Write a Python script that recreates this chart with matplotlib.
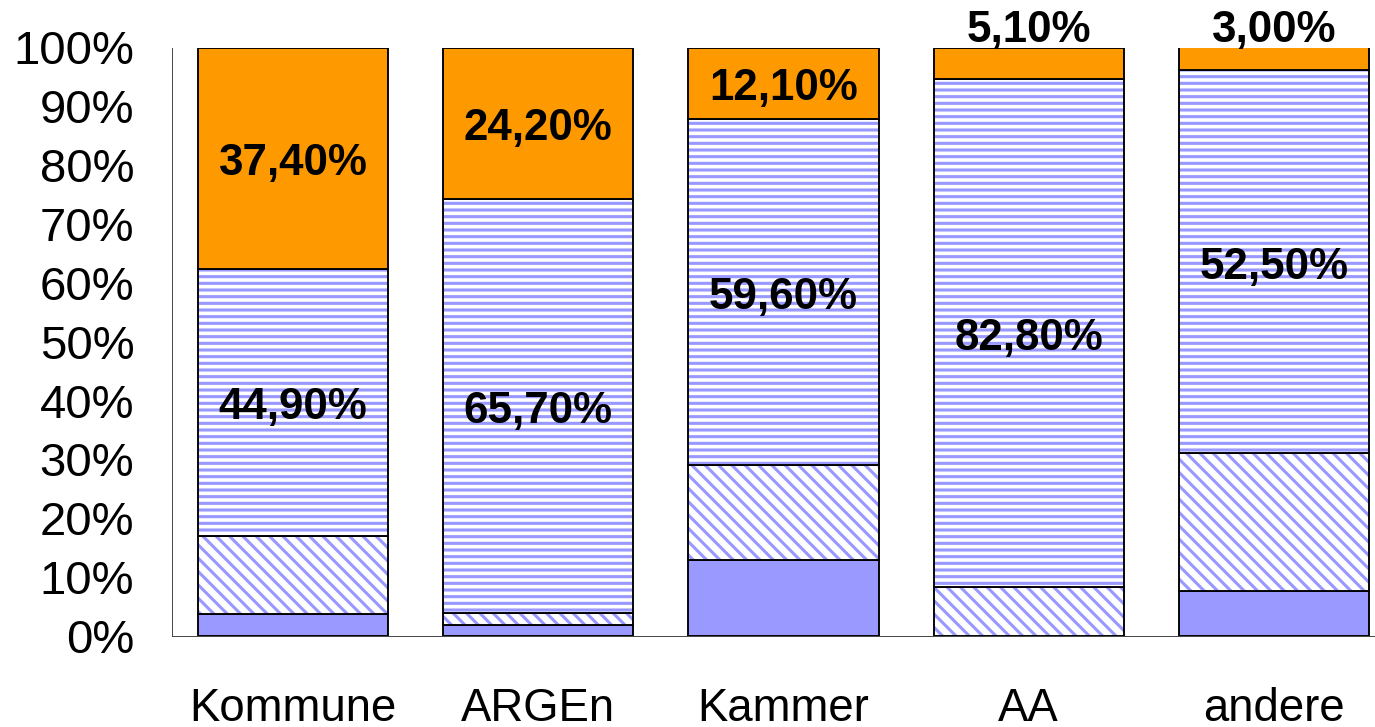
import matplotlib
matplotlib.use('Agg')
from matplotlib import pyplot as plt
import numpy as np

# data (segment heights in %, bottom to top)
categories = ['Kommune', 'ARGEn', 'Kammer', 'AA', 'andere']
solid = [3.7, 1.9, 12.9, 0.0, 7.7]
diagonal = [13.3, 2.0, 16.2, 8.3, 23.4]
stripes = [45.4, 70.4, 58.8, 86.4, 65.0]
orange = [37.6, 25.7, 12.1, 5.3, 3.9]
stripe_labels = ['44,90%', '65,70%', '59,60%', '82,80%', '52,50%']
orange_labels = ['37,40%', '24,20%', '12,10%', '5,10%', '3,00%']
yticks = [0, 10, 20, 30, 40, 50, 60, 70, 80, 90, 100]

DPI = 80  # chosen so that hatch spacing matches the reference
BLUE = '#9999FF'
ORANGE = '#FF9900'

plt.rcParams['font.family'] = ['Liberation Sans', 'DejaVu Sans']
plt.rcParams['hatch.linewidth'] = 2.8
plt.rcParams['hatch.color'] = BLUE

fig = plt.figure(figsize=(1375 / DPI, 727 / DPI), dpi=DPI)
ax = fig.add_axes([172 / 1375, 1 - 636 / 727, 1 - 172 / 1375, (636 - 47.5) / 727])

x = np.arange(len(categories))
width = 0.775
edge_lw = 1.7

b0 = np.zeros(len(categories))
b1 = b0 + np.array(solid)
b2 = b1 + np.array(diagonal)
b3 = b2 + np.array(stripes)

# solid blue
ax.bar(x, solid, width, bottom=b0, color=BLUE, edgecolor='black', linewidth=edge_lw)
# diagonal hatch
ax.bar(x, diagonal, width, bottom=b1, color='white', edgecolor=BLUE, hatch='\\\\', linewidth=0)
ax.bar(x, diagonal, width, bottom=b1, fill=False, edgecolor='black', linewidth=edge_lw)
# horizontal stripes
ax.bar(x, stripes, width, bottom=b2, color='white', edgecolor=BLUE, hatch='--', linewidth=0)
ax.bar(x, stripes, width, bottom=b2, fill=False, edgecolor='black', linewidth=edge_lw)
# orange top
ax.bar(x, orange, width, bottom=b3, color=ORANGE, edgecolor='black', linewidth=edge_lw)

lab_kw = dict(ha='center', va='center', fontsize=39.5, fontweight='bold',
              textcoords='offset points', xytext=(0, -5), annotation_clip=False)
for i in range(len(categories)):
    ax.annotate(stripe_labels[i], (x[i], b2[i] + stripes[i] / 2), **lab_kw)
    if orange[i] < 8:
        ax.annotate(orange_labels[i], (x[i], 103.8), **lab_kw)
    else:
        ax.annotate(orange_labels[i], (x[i], b3[i] + orange[i] / 2), **lab_kw)

ax.set_xlim(-0.4934, 4.412)
ax.set_ylim(0, 100)
ax.set_yticks(yticks)
ax.set_yticklabels(['{}%'.format(v) for v in yticks])
ax.set_xticks(x)
ax.set_xticklabels(categories)
ax.tick_params(axis='y', length=0, pad=34, labelsize=42.5)
ax.tick_params(axis='x', length=0, pad=46, labelsize=41)

for s in ['top', 'right']:
    ax.spines[s].set_visible(False)
for s in ['left', 'bottom']:
    ax.spines[s].set_color('#333333')
    ax.spines[s].set_linewidth(0.8)

fig.savefig('out.png', dpi=DPI)
